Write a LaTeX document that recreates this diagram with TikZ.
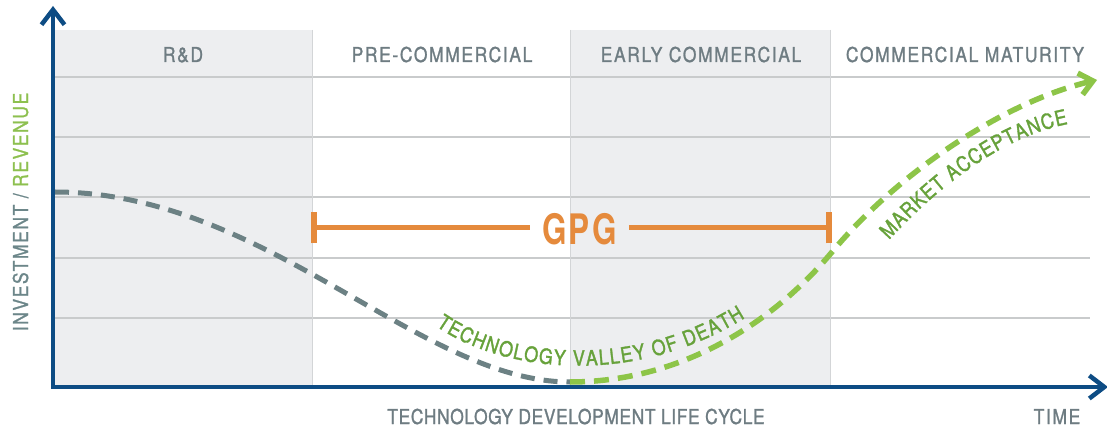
\documentclass[tikz,border=0pt]{standalone}
\usepackage{fontspec}
\usetikzlibrary{arrows.meta,decorations.text}
\newfontfamily\condfont[FakeStretch=0.85,LetterSpace=8,FakeBold=1.2]{TeX Gyre Heros}
\newfontfamily\tightfont[FakeStretch=0.85,LetterSpace=3,FakeBold=1.2]{TeX Gyre Heros}
\newfontfamily\arcfont[FakeStretch=0.85,FakeBold=1.5]{TeX Gyre Heros}
\newfontfamily\gpgfont[FakeStretch=0.75,LetterSpace=5]{TeX Gyre Heros}
\newcommand\curvefont{\arcfont\fontsize{21}{21}\selectfont}
\definecolor{navy}{HTML}{0D4C84}
\definecolor{bandgray}{HTML}{EDEEF0}
\definecolor{gridgray}{HTML}{C9CBCC}
\definecolor{sepgray}{HTML}{D3D5D7}
\definecolor{textgray}{HTML}{6E7C82}
\definecolor{tealgray}{HTML}{6C8689}
\definecolor{revgreen}{HTML}{8DC04F}
\definecolor{gpgorange}{HTML}{E58A3C}
\definecolor{slate}{HTML}{6C8184}
\definecolor{ltgreen}{HTML}{8DC548}
\definecolor{dkgreen}{HTML}{67A23B}
\begin{document}
\begin{tikzpicture}[x=1pt,y=-1pt,
  hdr/.style={font=\condfont\fontsize{20.5}{20.5}\selectfont, text=textgray, inner sep=0pt, anchor=base},
  gridline/.style={draw=gridgray, line width=1.3pt},
  sepline/.style={draw=sepgray, line width=1pt},
  axisline/.style={draw=navy, line width=4.5pt, line join=miter},
  slatedash/.style={draw=slate, line width=5pt, dash pattern=on 14pt off 9pt},
  greendash/.style={draw=ltgreen, line width=5.5pt, dash pattern=on 15pt off 9pt},
  gpgstyle/.style={font=\gpgfont\bfseries\fontsize{42}{42}\selectfont, text=gpgorange, inner xsep=12pt, inner ysep=0pt, anchor=base},
  barline/.style={draw=gpgorange, line width=5pt},
  tickline/.style={draw=gpgorange, line width=6pt},
  curvetext/.style={decorate, decoration={text along path, text color=dkgreen, text align=fit to path}}
]
\useasboundingbox (0,0) rectangle (1107,427);
\fill[white] (0,0) rectangle (1107,427);
% bands
\fill[bandgray] (55,30) rectangle (312,386);
\fill[bandgray] (570,30) rectangle (830,386);
\foreach \y in {77,137,197,258,318} \draw[gridline] (55,\y) -- (1090,\y);
\foreach \x in {312,570,830} \draw[sepline] (\x,30) -- (\x,386);
% headers
\node[hdr] (rd) at (183,62) {R\&D};
\node[hdr] (pre) at (442,62) {PRE-COMMERCIAL};
\node[hdr] (early) at (701,62) {EARLY COMMERCIAL};
\node[hdr] (mat) at (965,62) {COMMERCIAL MATURITY};
% axis labels
\node[hdr, font=\tightfont\fontsize{20.5}{20.5}\selectfont] (xlab) at (576,424) {TECHNOLOGY DEVELOPMENT LIFE CYCLE};
\node[hdr] (tlab) at (1057,424) {TIME};
\node[hdr, rotate=90] (ylab) at (28,212) {\textcolor{tealgray}{INVESTMENT /} \textcolor{revgreen}{REVENUE}};
% GPG bracket
\node[gpgstyle] (gpg) at (579.5,245) {GPG};
\coordinate (bl) at (314,228);
\coordinate (br) at (829,228);
\draw[barline] (bl) -- (bl -| gpg.west);
\draw[barline] (gpg.east |- br) -- (br);
\draw[tickline] ([yshift=-15.5pt]bl) -- ([yshift=15.5pt]bl);
\draw[tickline] ([yshift=-15.5pt]br) -- ([yshift=15.5pt]br);
% curves
\coordinate (g0) at (55,192);
\coordinate (gv) at (570,382);
\coordinate (gm) at (832,252);
\coordinate (gend) at (1097,80);
\draw[slatedash] (g0) .. controls (265,192) and (420,382) .. (gv);
\draw[greendash, -{Straight Barb[length=13pt,width=22pt]}] (gv) .. controls (680,382) and (772,324) .. (gm) .. controls (902,168) and (1010,100) .. (gend);
% curved labels
\path[curvetext, decoration={text={|\curvefont|TECHNOLOGY VALLEY OF DEATH}}]
  (436,326) .. controls (495,368) and (625,392) .. (745,318);
\path[curvetext, decoration={text={|\curvefont|MARKET ACCEPTANCE}}]
  (889,240) .. controls (935,190) and (1000,137) .. (1068,124);
% axes
\coordinate (o) at (53,387);
\coordinate (ytop) at (53,6);
\coordinate (xend) at (1108,387);
\draw[axisline, {Straight Barb[length=15pt,width=23pt]}-{Straight Barb[length=15pt,width=23pt]}] (ytop) -- (o) -- (xend);
\end{tikzpicture}
\end{document}
